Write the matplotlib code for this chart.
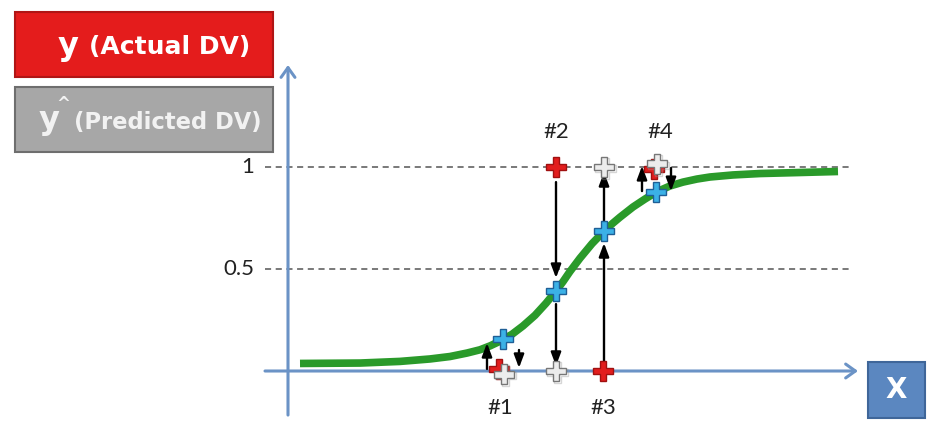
import matplotlib
matplotlib.use("Agg")
import matplotlib.pyplot as plt
from matplotlib.patches import Rectangle
import matplotlib.patheffects as pe

# curve points (x in arbitrary units, y = probability)
curve_x = [0.24, 1.44, 2.24, 2.84, 3.24, 3.58, 3.84, 4.04, 4.24, 4.48, 4.70,
           4.94, 5.16, 5.36, 5.50, 5.64, 5.84, 6.08, 6.32, 6.48, 6.64, 6.90,
           7.14, 7.38, 7.64, 7.90, 8.18, 8.44, 8.90, 9.44, 10.24, 11.0]
curve_y = [0.037, 0.039, 0.047, 0.059, 0.071, 0.088, 0.104, 0.123, 0.146,
           0.180, 0.221, 0.273, 0.332, 0.392, 0.438, 0.488, 0.553, 0.624,
           0.685, 0.721, 0.754, 0.804, 0.843, 0.879, 0.907, 0.926, 0.941,
           0.951, 0.961, 0.968, 0.973, 0.978]

labels = ["#1", "#2", "#3", "#4"]
point_x = [4.30, 5.35, 6.32, 7.36]
pred_prob = [0.155, 0.39, 0.685, 0.877]       # blue, on the curve
actual_x = [4.22, 5.36, 6.30, 7.32]
actual_y = [0.01, 1.0, 0.0, 0.99]             # red
predicted_x = [4.32, 5.36, 6.32, 7.38]
predicted_y = [-0.015, 0.0, 1.0, 1.015]       # white (rounded class)
label_y = [-0.18, 1.17, -0.18, 1.17]
label_x = [4.24, 5.36, 6.30, 7.44]

# arrows: x, start y, end y
arrow_x = [3.98, 4.62, 5.36, 5.36, 6.32, 6.32, 7.08, 7.66]
arrow_y0 = [0.01, 0.103, 0.926, 0.328, 0.025, 0.735, 0.882, 0.995]
arrow_y1 = [0.137, 0.015, 0.456, 0.025, 0.627, 0.975, 1.005, 0.882]

ticks = [1, 0.5]
tick_labels = ["1", "0.5"]

W, H = 942, 442
fig = plt.figure(figsize=(W / 100, H / 100), dpi=100)
ax = fig.add_axes([0, 0, 1, 1])
ax.set_xlim(-288 / 50, (W - 288) / 50)
ax.set_ylim(-(H - 371) / 204, 371 / 204)
ax.axis("off")

axis_col = "#6b93c6"
font = "Lato"

# dashed reference lines
for t, lab in zip(ticks, tick_labels):
    ax.plot([-0.46, 11.3], [t, t], color="#555555", lw=1.1, dashes=(4, 3), zorder=1)
    ax.text(-0.68, t, lab, ha="right", va="center", fontsize=16,
            family=font, color="#222222")

# axes with open arrow heads
ax.annotate("", xy=(0, 1.5), xytext=(0, -0.216),
            arrowprops=dict(arrowstyle="->,head_length=0.7,head_width=0.5",
                            color=axis_col, lw=2.2, shrinkA=0, shrinkB=0), zorder=2)
ax.annotate("", xy=(11.4, 0), xytext=(-0.46, 0),
            arrowprops=dict(arrowstyle="->,head_length=0.7,head_width=0.5",
                            color=axis_col, lw=2.2, shrinkA=0, shrinkB=0), zorder=2)

# logistic curve
ax.plot(curve_x, curve_y, color="#2a9a2a", lw=5.5, solid_capstyle="butt",
        solid_joinstyle="round", zorder=3)

# arrows between points
for x, y0, y1 in zip(arrow_x, arrow_y0, arrow_y1):
    ax.annotate("", xy=(x, y1), xytext=(x, y0),
                arrowprops=dict(arrowstyle="-|>,head_length=0.8,head_width=0.3",
                                color="black", lw=1.7, shrinkA=0, shrinkB=0),
                zorder=4)

shadow = [pe.SimpleLineShadow(offset=(1, -1), shadow_color="#999999", alpha=0.4),
          pe.Normal()]
ax.plot(actual_x, actual_y, "P", ms=15, mfc="#e21d1d", mec="#a01010", mew=1,
        ls="none", zorder=5)
ax.plot(predicted_x, predicted_y, "P", ms=15, mfc="#ececec", mec="#777777",
        mew=1, ls="none", zorder=6, path_effects=shadow)
ax.plot(point_x, pred_prob, "P", ms=15, mfc="#3bb1e6", mec="#1f5f96", mew=1,
        ls="none", zorder=7)

for lx, ly, lab in zip(label_x, label_y, labels):
    ax.text(lx, ly, lab, ha="center", va="center", fontsize=16, family=font,
            color="#222222")


def px_rect(x0, y0, x1, y1, fc, ec):
    r = Rectangle((x0 / W, 1 - y1 / H), (x1 - x0) / W, (y1 - y0) / H,
                  transform=fig.transFigure, fc=fc, ec=ec, lw=1.5)
    fig.add_artist(r)


# legend boxes
px_rect(15, 12, 273, 77, "#e41c1c", "#b01515")
fig.text(68 / W, 1 - 46 / H, "y", ha="center", va="center", fontsize=23,
         fontweight="bold", color="white")
fig.text(89 / W, 1 - 47 / H, "(Actual DV)", ha="left", va="center", fontsize=18,
         fontweight="bold", color="white")

px_rect(15, 87, 273, 152, "#a7a7a7", "#6e6e6e")
fig.text(49 / W, 1 - 121 / H, "y", ha="center", va="center", fontsize=23,
         fontweight="bold", color="#f2f2f2")
fig.text(63 / W, 1 - 104 / H, "^", ha="center", va="center", fontsize=12,
         fontweight="bold", color="#f2f2f2")
fig.text(74 / W, 1 - 122 / H, "(Predicted DV)", ha="left", va="center",
         fontsize=16.3, fontweight="bold", color="#f2f2f2")

# X box
px_rect(868, 362, 925, 418, "#5b87c0", "#3f6699")
fig.text(896.5 / W, 1 - 390 / H, "X", ha="center", va="center", fontsize=20,
         fontweight="bold", color="white")

fig.savefig("out.png", dpi=100, facecolor="white")
